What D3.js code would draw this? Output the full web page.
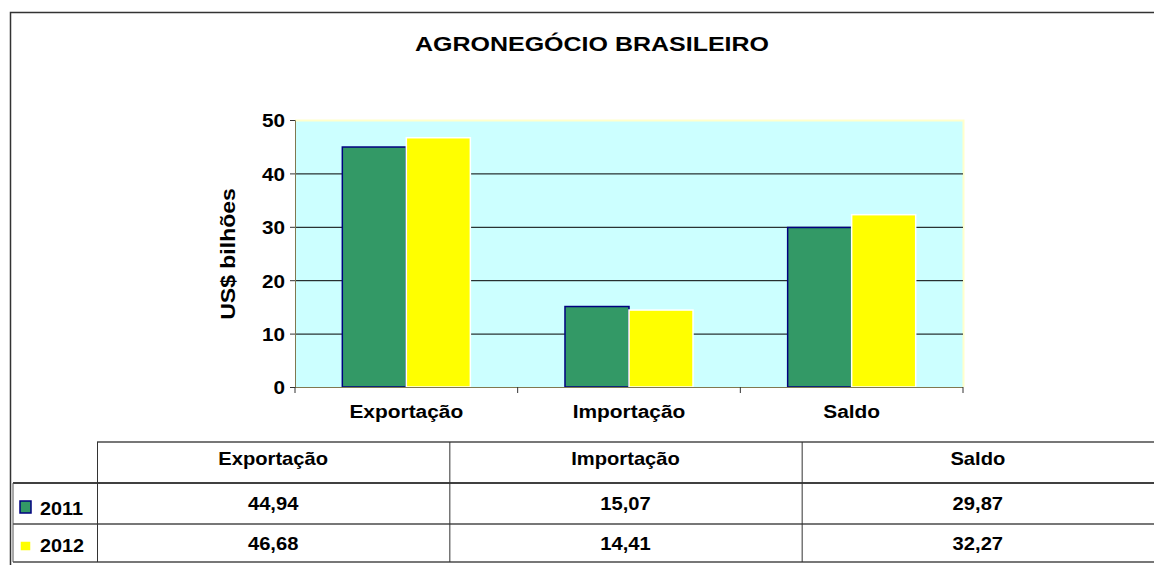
<!DOCTYPE html>
<meta charset="utf-8">
<style>
body { margin: 0; background: #fff; }
svg { font-family: "Liberation Sans", Arial, sans-serif; font-weight: bold; }
.grid line { stroke: #000; stroke-width: 1; }
.grid .domain { display: none; }
</style>
<body>
<script src="https://d3js.org/d3.v7.min.js"></script>
<script>

var categories = ["Exportação", "Importação", "Saldo"];
var years = ["2011", "2012"];
var values2011 = [44.94, 15.07, 29.87];
var values2012 = [46.68, 14.41, 32.27];
var labels2011 = ["44,94", "15,07", "29,87"];
var labels2012 = ["46,68", "14,41", "32,27"];
var yTicks = [0, 10, 20, 30, 40, 50];

var W = 1154, H = 565;
var plot = {left: 295, right: 963, top: 120, bottom: 387};

var fills = {"2011": "#339966", "2012": "#ffff00"};
var strokes = {"2011": "#000080", "2012": "#ffffff"};

var svg = d3.select("body").append("svg")
    .attr("width", W)
    .attr("height", H);

// stretched bold text, the original is wider than plain Arial
function txt(g, x, y, s, size, anchor, sx) {
  return g.append("text")
      .attr("transform", "translate(" + x + "," + y + ") scale(" + sx + ",1)")
      .attr("text-anchor", anchor)
      .style("font-size", size + "px")
      .text(s);
}

// outer frame
svg.append("path")
    .attr("d", "M10.5," + H + "V12.5H" + W)
    .attr("fill", "none")
    .attr("stroke", "#333")
    .attr("stroke-width", 1.5);

txt(svg, 592, 51, "AGRONEGÓCIO BRASILEIRO", 21, "middle", 1.19);

var x = d3.scaleBand()
    .domain(categories)
    .range([plot.left, plot.right])
    .paddingInner(0.425)
    .paddingOuter(0.2125);

var xs = d3.scaleBand()
    .domain(years)
    .range([0, x.bandwidth()]);

var y = d3.scaleLinear()
    .domain([0, 50])
    .range([plot.bottom, plot.top]);

// plot background
svg.append("rect")
    .attr("x", plot.left)
    .attr("y", plot.top)
    .attr("width", plot.right - plot.left)
    .attr("height", plot.bottom - plot.top)
    .attr("fill", "#ccffff");

svg.append("path")
    .attr("d", "M" + plot.left + "," + (plot.top + 0.5) + "H" + (plot.right + 0.5) + "V" + plot.bottom)
    .attr("fill", "none")
    .attr("stroke", "#ffffcc")
    .attr("stroke-width", 2);

// gridlines
svg.append("g")
    .attr("class", "grid")
    .attr("transform", "translate(" + plot.left + ",0)")
    .call(d3.axisLeft(y).tickValues(yTicks.slice(1, -1)).tickSize(-(plot.right - plot.left)).tickFormat(""));

// bars
var rows = years.map(function(yr, i) { return {year: yr, vals: i === 0 ? values2011 : values2012}; });

var groups = svg.append("g").selectAll("g")
  .data(categories)
  .enter().append("g")
    .attr("transform", function(d) { return "translate(" + x(d) + ",0)"; });

groups.selectAll("rect")
  .data(function(c, ci) { return rows.map(function(r) { return {year: r.year, v: r.vals[ci]}; }); })
  .enter().append("rect")
    .attr("x", function(d) { return xs(d.year); })
    .attr("y", function(d) { return y(d.v); })
    .attr("width", xs.bandwidth())
    .attr("height", function(d) { return y(0) - y(d.v); })
    .attr("fill", function(d) { return fills[d.year]; })
    .attr("stroke", function(d) { return strokes[d.year]; })
    .attr("stroke-width", 1.5);

// y axis
var gy = svg.append("g")
    .attr("transform", "translate(" + plot.left + ",0)")
    .call(d3.axisLeft(y).tickValues(yTicks).tickSize(5).tickPadding(5));
gy.select(".domain").attr("stroke", "#807850");
gy.selectAll(".tick line").attr("stroke", "#333");
gy.selectAll("text")
    .attr("fill", "#000")
    .style("font-size", "19px")
    .attr("transform", "scale(1.09,1)")
    .attr("x", -10 / 1.09)
    .attr("dy", "0.36em");

// x axis: ticks at category boundaries
var bounds = [plot.left].concat(categories.map(function(c) { return x(c) + x.bandwidth() + x.step() * x.paddingInner() / 2; }));
var gx = svg.append("g");
gx.append("line")
    .attr("x1", plot.left).attr("x2", plot.right)
    .attr("y1", plot.bottom + 0.5).attr("y2", plot.bottom + 0.5)
    .attr("stroke", "#807850");
gx.selectAll(".bt")
  .data(bounds)
  .enter().append("line")
    .attr("x1", function(d) { return d; }).attr("x2", function(d) { return d; })
    .attr("y1", plot.bottom).attr("y2", plot.bottom + 6)
    .attr("stroke", "#333");
categories.forEach(function(c) {
  txt(gx, x(c) + x.bandwidth() / 2, 418, c, 19, "middle", 1.1);
});

// y label
svg.append("text")
    .attr("transform", "translate(235,254) rotate(-90) scale(1.15,1)")
    .attr("text-anchor", "middle")
    .style("font-size", "20px")
    .text("US$ bilhões");

// data table
var table = {left: 97, right: W, top: 442, head: 483, row1: 524, bottom: 562, legLeft: 13};
var colW = (1154 - table.left) / 3;
var colX = categories.map(function(c, i) { return table.left + colW * i; });
var t = svg.append("g");

function hline(yy, x1, x2, col, w) {
  t.append("line").attr("x1", x1).attr("x2", x2).attr("y1", yy).attr("y2", yy)
    .attr("stroke", col).attr("stroke-width", w);
}
function vline(xx, y1, y2, col, w) {
  t.append("line").attr("x1", xx).attr("x2", xx).attr("y1", y1).attr("y2", y2)
    .attr("stroke", col).attr("stroke-width", w);
}

hline(table.top, table.left, W, "#777", 2);
hline(table.head, table.legLeft, W, "#000", 1.5);
hline(table.row1, table.legLeft, W, "#777", 2);
hline(table.bottom, table.legLeft, W, "#777", 2);
vline(table.legLeft, table.head, table.bottom, "#555", 1);
colX.forEach(function(cx) { vline(cx + 0.5, table.top, table.bottom, "#333", 1); });

categories.forEach(function(c, i) {
  var cx = colX[i] + colW / 2;
  txt(t, cx, 465, c, 18, "middle", 1.12);
  txt(t, cx, 510, labels2011[i], 18, "middle", 1.12);
  txt(t, cx, 550, labels2012[i], 18, "middle", 1.12);
});

// legend keys
var keyY = {"2011": 501, "2012": 541};
var keyBase = {"2011": 515, "2012": 552};
years.forEach(function(yr) {
  t.append("rect")
      .attr("x", 20).attr("y", keyY[yr])
      .attr("width", 11).attr("height", yr === "2011" ? 12 : 10)
      .attr("fill", fills[yr])
      .attr("stroke", strokes[yr])
      .attr("stroke-width", 1.5);
  txt(t, 40, keyBase[yr], yr, 18, "start", 1.1);
});

</script>
